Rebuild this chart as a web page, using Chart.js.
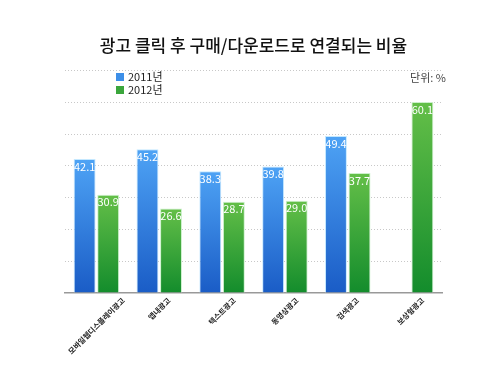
<!DOCTYPE html>
<html>
<head>
<meta charset="utf-8">
<script src="https://cdn.jsdelivr.net/npm/chart.js@4/dist/chart.umd.min.js"></script>
<style>
  html, body { margin: 0; padding: 0; background: #fff; }
</style>
</head>
<body>
<canvas id="adChart" width="500" height="375"></canvas>
<script>
// 카테고리 / 데이터
const categories = ['모바일웹디스플레이광고', '앱내광고', '텍스트광고', '동영상광고', '검색광고', '보상형광고'];
const values2011 = [42.1, 45.2, 38.3, 39.8, 49.4, null];
const values2012 = [30.9, 26.6, 28.7, 29.0, 37.7, 60.1];
const seriesNames = ['2011년', '2012년'];
const yTicks = [0, 10, 20, 30, 40, 50, 60, 70];

const FONT = '"Noto Sans CJK KR", "Noto Sans", sans-serif';

// 막대별 그라데이션
function barGradient(top, bottom) {
    return function (ctx) {
        const chart = ctx.chart;
        if (!chart.chartArea || ctx.raw == null) return top;
        const y = chart.scales.y;
        const y0 = y.getPixelForValue(ctx.raw);
        const y1 = y.getPixelForValue(0);
        const g = chart.ctx.createLinearGradient(0, y0, 0, y1);
        g.addColorStop(0, top);
        g.addColorStop(1, bottom);
        return g;
    };
}

// 값 라벨, x축 라벨, 범례, 단위 그리기
const extraPlugin = {
    id: 'extra',
    afterDatasetsDraw(chart) {
        const c = chart.ctx;
        c.save();
        c.font = '11px ' + FONT;
        c.fillStyle = '#fff';
        c.textAlign = 'center';
        c.textBaseline = 'top';
        chart.data.datasets.forEach((ds, i) => {
            chart.getDatasetMeta(i).data.forEach((bar, j) => {
                if (ds.data[j] == null) return;
                c.fillText(ds.data[j].toFixed(1), bar.x, bar.y + 2);
            });
        });

        // x축 라벨 (45도, 가운데 정렬)
        const xs = chart.scales.x;
        const k = Math.SQRT1_2;
        c.font = 'bold 7.5px ' + FONT;
        c.fillStyle = '#222';
        c.textAlign = 'center';
        c.textBaseline = 'middle';
        categories.forEach((label, i) => {
            const w = c.measureText(label).width;
            c.save();
            c.translate(xs.getPixelForTick(i), chart.chartArea.bottom + 6 + w / 2 * k);
            c.rotate(-Math.PI / 4);
            c.fillText(label, 0, 0);
            c.restore();
        });

        // 범례
        const legendColors = ['#3d8fe8', '#3aa63c'];
        c.font = '11px ' + FONT;
        c.textAlign = 'left';
        c.textBaseline = 'middle';
        seriesNames.forEach((name, i) => {
            const y = 77 + i * 13;
            c.fillStyle = legendColors[i];
            c.fillRect(116, y - 4, 8, 8);
            c.fillStyle = '#222';
            c.fillText(name, 128, y);
        });

        // 단위
        c.textAlign = 'right';
        c.fillStyle = '#444';
        c.fillText('단위: %', 446, 78);
        c.restore();
    }
};

const config = {
    type: 'bar',
    data: {
        labels: categories,
        datasets: [{
            label: seriesNames[0],
            data: values2011,
            backgroundColor: barGradient('#4ea3f5', '#1a5cc6'),
            borderColor: 'rgba(190, 230, 255, 0.9)',
            borderWidth: 1
        }, {
            label: seriesNames[1],
            data: values2012,
            backgroundColor: barGradient('#64bf48', '#138c2c'),
            borderColor: 'rgba(200, 240, 200, 0.9)',
            borderWidth: 1
        }]
    },
    options: {
        responsive: false,
        animation: false,
        layout: {
            padding: { top: 0, left: 65, right: 58, bottom: 10 }
        },
        datasets: {
            bar: {
                categoryPercentage: 0.75,
                barPercentage: 0.93
            }
        },
        plugins: {
            legend: { display: false },
            tooltip: { enabled: false },
            title: {
                display: true,
                text: '광고 클릭 후 구매/다운로드로 연결되는 비율',
                color: '#111',
                font: { family: FONT, size: 17, weight: '500', lineHeight: 1.2 },
                padding: { top: 35, bottom: 15 }
            }
        },
        scales: {
            y: {
                min: yTicks[0],
                max: yTicks[yTicks.length - 1],
                afterBuildTicks: (s) => { s.ticks = yTicks.map(v => ({ value: v })); },
                afterFit: (s) => { s.width = 0; },
                ticks: { display: false },
                grid: {
                    color: (ctx) => ctx.tick && ctx.tick.value === 0 ? 'rgba(0,0,0,0)' : '#c8c8c8',
                    lineWidth: 1,
                    drawTicks: false
                },
                border: { display: false, dash: [1, 2] }
            },
            x: {
                afterFit: (s) => { s.height = 72; },
                grid: { display: false },
                border: { display: true, color: '#999', width: 1.5 },
                ticks: { display: false }
            }
        }
    },
    plugins: [extraPlugin]
};

new Chart(document.getElementById('adChart'), config);
</script>
</body>
</html>
